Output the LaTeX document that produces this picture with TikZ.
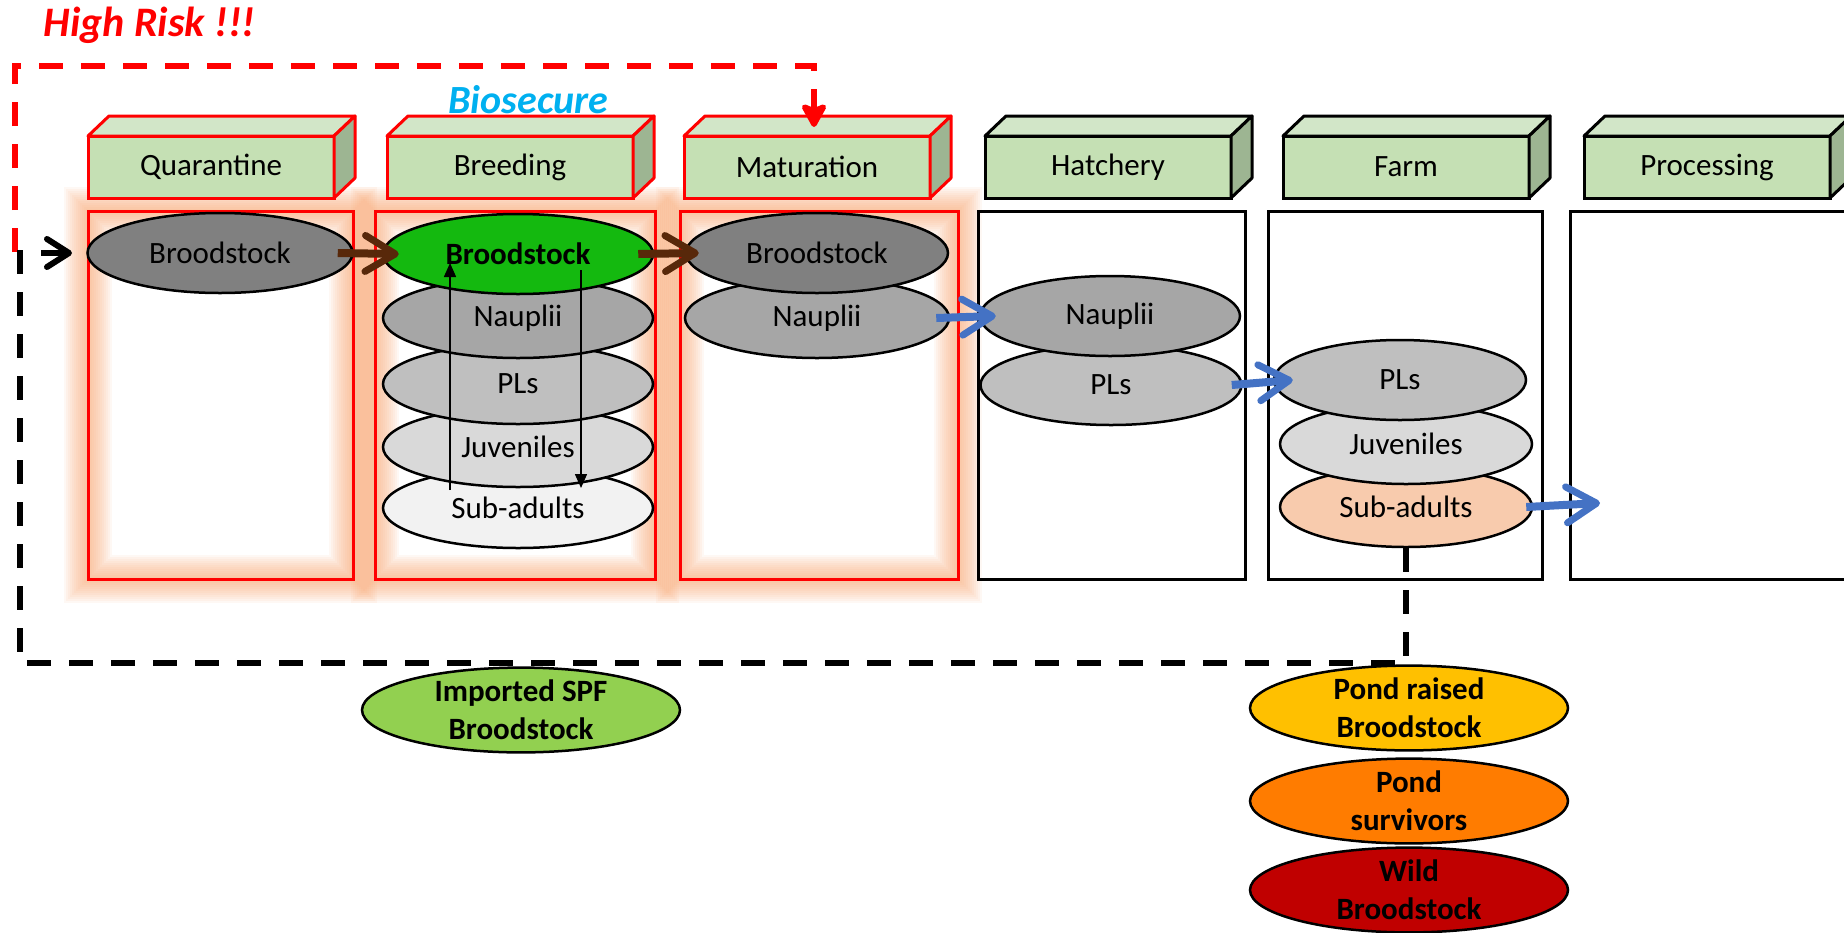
\documentclass[tikz,border=0pt]{standalone}
\usepackage{fontspec}
\setmainfont{Carlito}
\usetikzlibrary{shapes.geometric,arrows.meta,calc}

\pgfdeclarelayer{background}
\pgfsetlayers{background,main}

\definecolor{hdrfront}{RGB}{197,224,180}
\definecolor{hdrtop}{RGB}{210,230,200}
\definecolor{hdrside}{RGB}{157,181,146}
\definecolor{riskred}{RGB}{255,0,0}
\definecolor{glowor}{RGB}{247,160,105}
\definecolor{biocyan}{RGB}{0,176,240}
\definecolor{flowblue}{RGB}{68,114,196}
\definecolor{flowbrown}{RGB}{88,40,10}
\definecolor{spfgreen}{RGB}{20,185,15}
\definecolor{impgreen}{RGB}{146,208,80}
\definecolor{pondyellow}{RGB}{255,192,0}
\definecolor{pondorange}{RGB}{255,124,0}
\definecolor{wildred}{RGB}{192,0,0}
\definecolor{subpeach}{RGB}{248,203,173}

\tikzset{
  stagehead/.style={draw, line width=3pt, fill=hdrfront, minimum width=246pt,
    minimum height=62pt, inner sep=0pt, outer sep=0pt, font=\fontsize{31}{37}\selectfont},
  lifestage/.style={ellipse, draw, line width=2.5pt, inner sep=0pt, minimum height=80pt,
    font=\fontsize{31}{37}\selectfont},
  source/.style={ellipse, draw, line width=2.5pt, inner sep=0pt, minimum width=318pt,
    minimum height=84pt, align=center, font=\fontsize{31}{38}\selectfont\bfseries},
  flowarrow/.style={line width=8pt, -{Straight Barb[length=30pt,width=36pt,line width=7pt,round]}},
  cyclearrow/.style={line width=1.5pt, -{Triangle[length=14pt,width=12pt]}},
  riskline/.style={draw=riskred, line width=5.5pt, dash pattern=on 24pt off 18pt,
    -{Stealth[length=28pt,width=30pt,inset=6pt,round]}},
  backline/.style={draw=black, line width=5.5pt, dash pattern=on 24pt off 18pt,
    -{Straight Barb[length=22pt,width=28pt,line width=6pt,round]}}
}

\begin{document}
\begin{tikzpicture}[x=1pt,y=-1pt]
    \newcommand{\hdry}{167}  % centre line of the stage headers
    \newcommand{\hdrdx}{21}  % depth of the 3d headers
    \newcommand{\hdrdy}{20}
    \newcommand{\boxtop}{211}
    \newcommand{\boxbot}{579}

    \useasboundingbox (0,0) rectangle (1844,932);
    \clip (0,0) rectangle (1844,932);

    % titles
    \node [anchor=base west, text=riskred, font=\fontsize{42}{50}\selectfont\bfseries\itshape] (highrisk) at (40,36) {High Risk !!!};
    \node [anchor=base west, text=biocyan, font=\fontsize{40}{48}\selectfont\bfseries\itshape] (biosecure) at (445,113) {Biosecure};

    % stage headers
    \foreach \n/\x/\c/\t in {qhead/211/riskred/Quarantine, bhead/510/riskred/Breeding, mhead/807/riskred/Maturation,
                             hhead/1108/black/Hatchery, fhead/1406/black/Farm, phead/1707/black/Processing} {
      \node [stagehead, draw=\c] (\n) at (\x,\hdry) {\t};
      \draw [draw=\c, line width=3pt, line join=round, fill=hdrtop] (\n.north west) -- ++(\hdrdx,-\hdrdy) -- ++(246,0) -- (\n.north east) -- cycle;
      \draw [draw=\c, line width=3pt, line join=round, fill=hdrside] (\n.north east) -- ++(\hdrdx,-\hdrdy) -- ++(0,62) -- (\n.south east) -- cycle;
    }

    % stage boxes
    \foreach \l/\r/\c in {88/353/riskred, 375/655/riskred, 680/958/riskred, 978/1245/black, 1268/1542/black, 1570/1900/black}
      \draw [draw=\c, line width=3pt] (\l,\boxtop) rectangle (\r,\boxbot);

    % glow round the biosecure stages
    \begin{pgfonlayer}{background}
      \foreach \l/\r in {88/353, 375/655, 680/958}
        \foreach \w in {4,8,...,48}
          \draw [glowor, line width=\w pt, opacity=.075] (\l,\boxtop) rectangle (\r,\boxbot);
    \end{pgfonlayer}

    % quarantine
    \node [lifestage, fill=black!50, minimum width=265pt] (qbrood) at (220,253) {Broodstock};

    % breeding, from the bottom up
    \node [lifestage, fill=black!5, minimum width=270pt] (bsub) at (518,508) {Sub-adults};
    \node [lifestage, fill=black!15, minimum width=270pt] (bjuv) at (518,447) {Juveniles};
    \node [lifestage, fill=black!25, minimum width=270pt] (bpl) at (518,384) {PLs};
    \node [lifestage, fill=black!35, minimum width=270pt] (bnaup) at (518,318) {Nauplii};
    \node [lifestage, fill=spfgreen, minimum width=270pt, font=\fontsize{31}{37}\selectfont\bfseries] (bbrood) at (518,254) {Broodstock};

    % maturation
    \node [lifestage, fill=black!35, minimum width=264pt] (mnaup) at (817,318) {Nauplii};
    \node [lifestage, fill=black!50, minimum width=262pt] (mbrood) at (817,253) {Broodstock};

    % hatchery
    \node [lifestage, fill=black!25, minimum width=261pt] (hpl) at (1111,385) {PLs};
    \node [lifestage, fill=black!35, minimum width=260pt] (hnaup) at (1110,316) {Nauplii};

    % farm
    \node [lifestage, fill=subpeach, minimum width=252pt] (fsub) at (1406,507) {Sub-adults};
    \node [lifestage, fill=black!15, minimum width=252pt] (fjuv) at (1406,444) {Juveniles};
    \node [lifestage, fill=black!25, minimum width=252pt] (fpl) at (1400,380) {PLs};

    % broodstock sources
    \node [source, fill=impgreen] (imported) at (521,710) {Imported SPF\\Broodstock};
    \node [source, fill=pondyellow] (pondraised) at (1409,708) {Pond raised\\Broodstock};
    \node [source, fill=pondorange] (pondsurv) at (1409,801) {Pond\\survivors};
    \node [source, fill=wildred] (wild) at (1409,890) {Wild\\Broodstock};

    % flow between stages
    \coordinate (procin) at (1600,503);
    \draw [flowarrow, flowbrown] ([xshift=-16pt]qbrood.east) -- ([xshift=17pt]bbrood.west);
    \draw [flowarrow, flowbrown] ([xshift=-16pt]bbrood.east) -- ([xshift=14pt]mbrood.west);
    \draw [flowarrow, flowblue] ([xshift=-14pt]mnaup.east) -- ([xshift=17pt]hnaup.west);
    \draw [flowarrow, flowblue] ([xshift=-11pt]hpl.east) -- ([xshift=20pt]fpl.west);
    \draw [flowarrow, flowblue] ([xshift=-7pt]fsub.east) -- (procin);

    % breeding cycle
    \draw [cyclearrow] ($(bsub.center)+(-68,-18)$) -- ($(bbrood.center)+(-68,9)$);
    \draw [cyclearrow] ($(bbrood.center)+(63,16)$) -- ($(bsub.center)+(63,-20)$);

    % risk paths
    \coordinate (riskstart) at (15,252);
    \coordinate (entry) at (72,253);
    \draw [riskline] (riskstart) |- ($(mhead.north)+(7,-70)$) -- ($(mhead.north)+(7,-9)$);
    \draw [backline] (fsub.south) |- (20,663) |- (entry);
\end{tikzpicture}
\end{document}
